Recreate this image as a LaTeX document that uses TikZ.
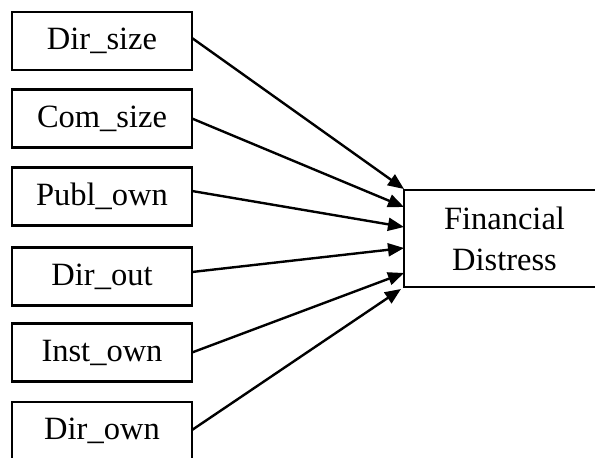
\documentclass[tikz,border=0pt]{standalone}
\usepackage{fontspec}
\setmainfont{Liberation Serif}
\usetikzlibrary{arrows.meta}
\tikzset{
  varbox/.style={draw, line width=2.4pt, rectangle, minimum width=180pt,
    minimum height=58pt, inner sep=0pt, outer sep=0pt,
    font=\fontsize{32.5}{38}\selectfont},
  outbox/.style={draw, line width=2.4pt, rectangle, minimum width=201pt,
    minimum height=97pt, inner sep=0pt, outer sep=0pt, align=center,
    font=\fontsize{32.5}{41}\selectfont},
  arr/.style={line width=2.4pt, -{Triangle[length=16pt,width=13pt]}}
}
\begin{document}
\begin{tikzpicture}[x=1pt,y=-1pt]
  \useasboundingbox (0,0) rectangle (595,458);
  \clip (0,0) rectangle (595,458);
  % explanatory variables
  \node[varbox] (b1) at (102,41)    {Dir\_size};
  \node[varbox] (b2) at (102,118.5) {Com\_size};
  \node[varbox] (b3) at (102,196.5) {Publ\_own};
  \node[varbox] (b4) at (102,276.5) {Dir\_out};
  \node[varbox] (b5) at (102,352.5) {Inst\_own};
  \node[varbox] (b6) at (102,431)   {Dir\_own};
  % outcome
  \node[outbox] (fd) at (504.5,238.5) {Financial\\Distress};
  % paths
  \draw[arr] ([yshift=3pt]b1.east)   -- ([yshift=49.5pt]fd.west);
  \draw[arr] (b2.east)               -- ([yshift=31.5pt]fd.west);
  \draw[arr] ([yshift=5.5pt]b3.east) -- ([yshift=11.5pt]fd.west);
  \draw[arr] ([yshift=4.5pt]b4.east) -- ([yshift=-9.5pt]fd.west);
  \draw[arr] (b5.east)               -- ([yshift=-34.5pt]fd.west);
  \draw[arr] ([yshift=1pt]b6.east)   -- ([xshift=-3pt,yshift=-50.5pt]fd.west);
\end{tikzpicture}
\end{document}
